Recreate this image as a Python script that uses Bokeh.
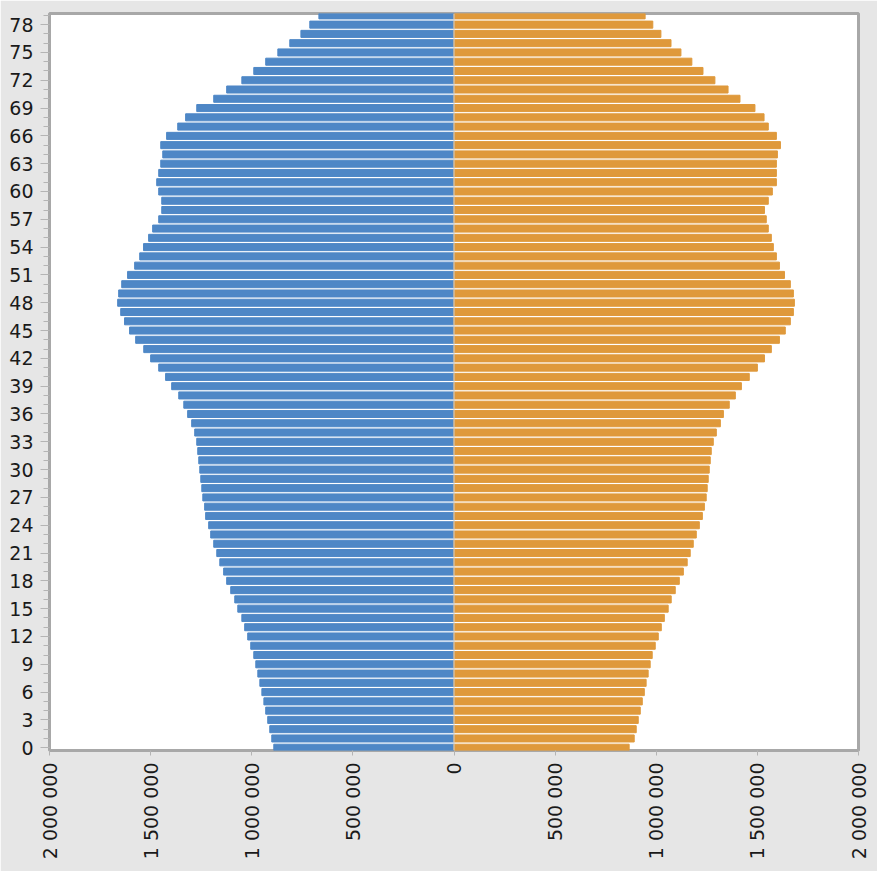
import math
from bokeh.plotting import figure
from bokeh.models import FixedTicker, Span, ColumnDataSource
from bokeh.embed import file_html
from bokeh.resources import INLINE

# ages 0..79
ages = list(range(80))

# male population (left, blue), age 0..79
male = [891000, 901000, 911000, 921000, 931000, 940000, 950000, 960000, 970000, 980000,
        990000, 1005000, 1020000, 1035000, 1049000, 1069000, 1084000, 1104000, 1124000, 1139000,
        1158000, 1173000, 1188000, 1203000, 1213000, 1228000, 1233000, 1242000, 1247000, 1252000,
        1257000, 1262000, 1267000, 1272000, 1282000, 1297000, 1317000, 1336000, 1361000, 1396000,
        1426000, 1460000, 1500000, 1534000, 1574000, 1604000, 1629000, 1648000, 1663000, 1658000,
        1643000, 1614000, 1579000, 1554000, 1535000, 1510000, 1490000, 1460000, 1445000, 1445000,
        1460000, 1470000, 1460000, 1450000, 1440000, 1450000, 1421000, 1366000, 1327000, 1272000,
        1188000, 1124000, 1049000, 990000, 931000, 871000, 812000, 757000, 713000, 668000]

# female population (right, orange), age 0..79
female = [866000, 891000, 901000, 911000, 921000, 931000, 941000, 950000, 960000, 970000,
          980000, 995000, 1010000, 1025000, 1040000, 1059000, 1074000, 1094000, 1114000, 1134000,
          1153000, 1168000, 1183000, 1198000, 1213000, 1228000, 1238000, 1247000, 1252000, 1257000,
          1262000, 1267000, 1272000, 1282000, 1297000, 1317000, 1332000, 1361000, 1391000, 1421000,
          1460000, 1500000, 1535000, 1569000, 1609000, 1638000, 1663000, 1678000, 1683000, 1678000,
          1663000, 1634000, 1609000, 1594000, 1579000, 1569000, 1554000, 1544000, 1535000, 1554000,
          1574000, 1594000, 1594000, 1594000, 1599000, 1614000, 1594000, 1554000, 1533000, 1488000,
          1414000, 1355000, 1290000, 1231000, 1176000, 1122000, 1073000, 1023000, 983000, 945000]

x_tick_values = [-2000000, -1500000, -1000000, -500000, 0, 500000, 1000000, 1500000, 2000000]
x_tick_labels = ["2 000 000", "1 500 000", "1 000 000", "500 000", "0",
                 "500 000", "1 000 000", "1 500 000", "2 000 000"]
y_tick_values = list(range(0, 79, 3))

BLUE = "#4e87c6"
ORANGE = "#df993b"
FONT = "DejaVu Sans"

src = ColumnDataSource(dict(
    age=ages,
    mleft=[-v for v in male],
    fright=female,
))

p = figure(width=877, height=871, output_backend="svg", toolbar_location=None,
           x_range=(-2000000, 2000000), y_range=(-0.3, 79.2),
           min_border_left=49, min_border_right=19, min_border_top=13, min_border_bottom=121)

p.hbar(y="age", left="mleft", right=0, height=0.76, color=BLUE, source=src)
p.hbar(y="age", left=0, right="fright", height=0.76, color=ORANGE, source=src)
p.add_layout(Span(location=0, dimension="height", line_color="#cfcfcf", line_width=1))

p.background_fill_color = "white"
p.border_fill_color = "#e6e6e6"
p.outline_line_color = "#a8a8a8"
p.outline_line_width = 3
p.xgrid.visible = False
p.ygrid.visible = False

p.yaxis.ticker = FixedTicker(ticks=y_tick_values, minor_ticks=ages)
p.yaxis.axis_line_color = None
p.yaxis.major_tick_in = 0
p.yaxis.minor_tick_in = 0
p.yaxis.major_tick_out = 9
p.yaxis.minor_tick_out = 6
p.yaxis.major_tick_line_color = "#b4b4b4"
p.yaxis.minor_tick_line_color = "#b4b4b4"
p.yaxis.major_label_standoff = 7
p.yaxis.major_label_text_font = FONT
p.yaxis.major_label_text_font_size = "19px"
p.yaxis.major_label_text_color = "#1a1a1a"

p.xaxis.ticker = FixedTicker(ticks=x_tick_values, minor_ticks=[])
p.xaxis.major_label_overrides = {v: s for v, s in zip(x_tick_values, x_tick_labels)}
p.xaxis.major_label_orientation = math.pi / 2
p.xaxis.axis_line_color = None
p.xaxis.major_tick_in = 0
p.xaxis.major_tick_out = 5
p.xaxis.major_tick_line_color = "#b4b4b4"
p.xaxis.major_label_standoff = 7
p.xaxis.major_label_text_font = FONT
p.xaxis.major_label_text_font_size = "19px"
p.xaxis.major_label_text_color = "#1a1a1a"

open("out.html", "w").write(file_html(p, INLINE))
